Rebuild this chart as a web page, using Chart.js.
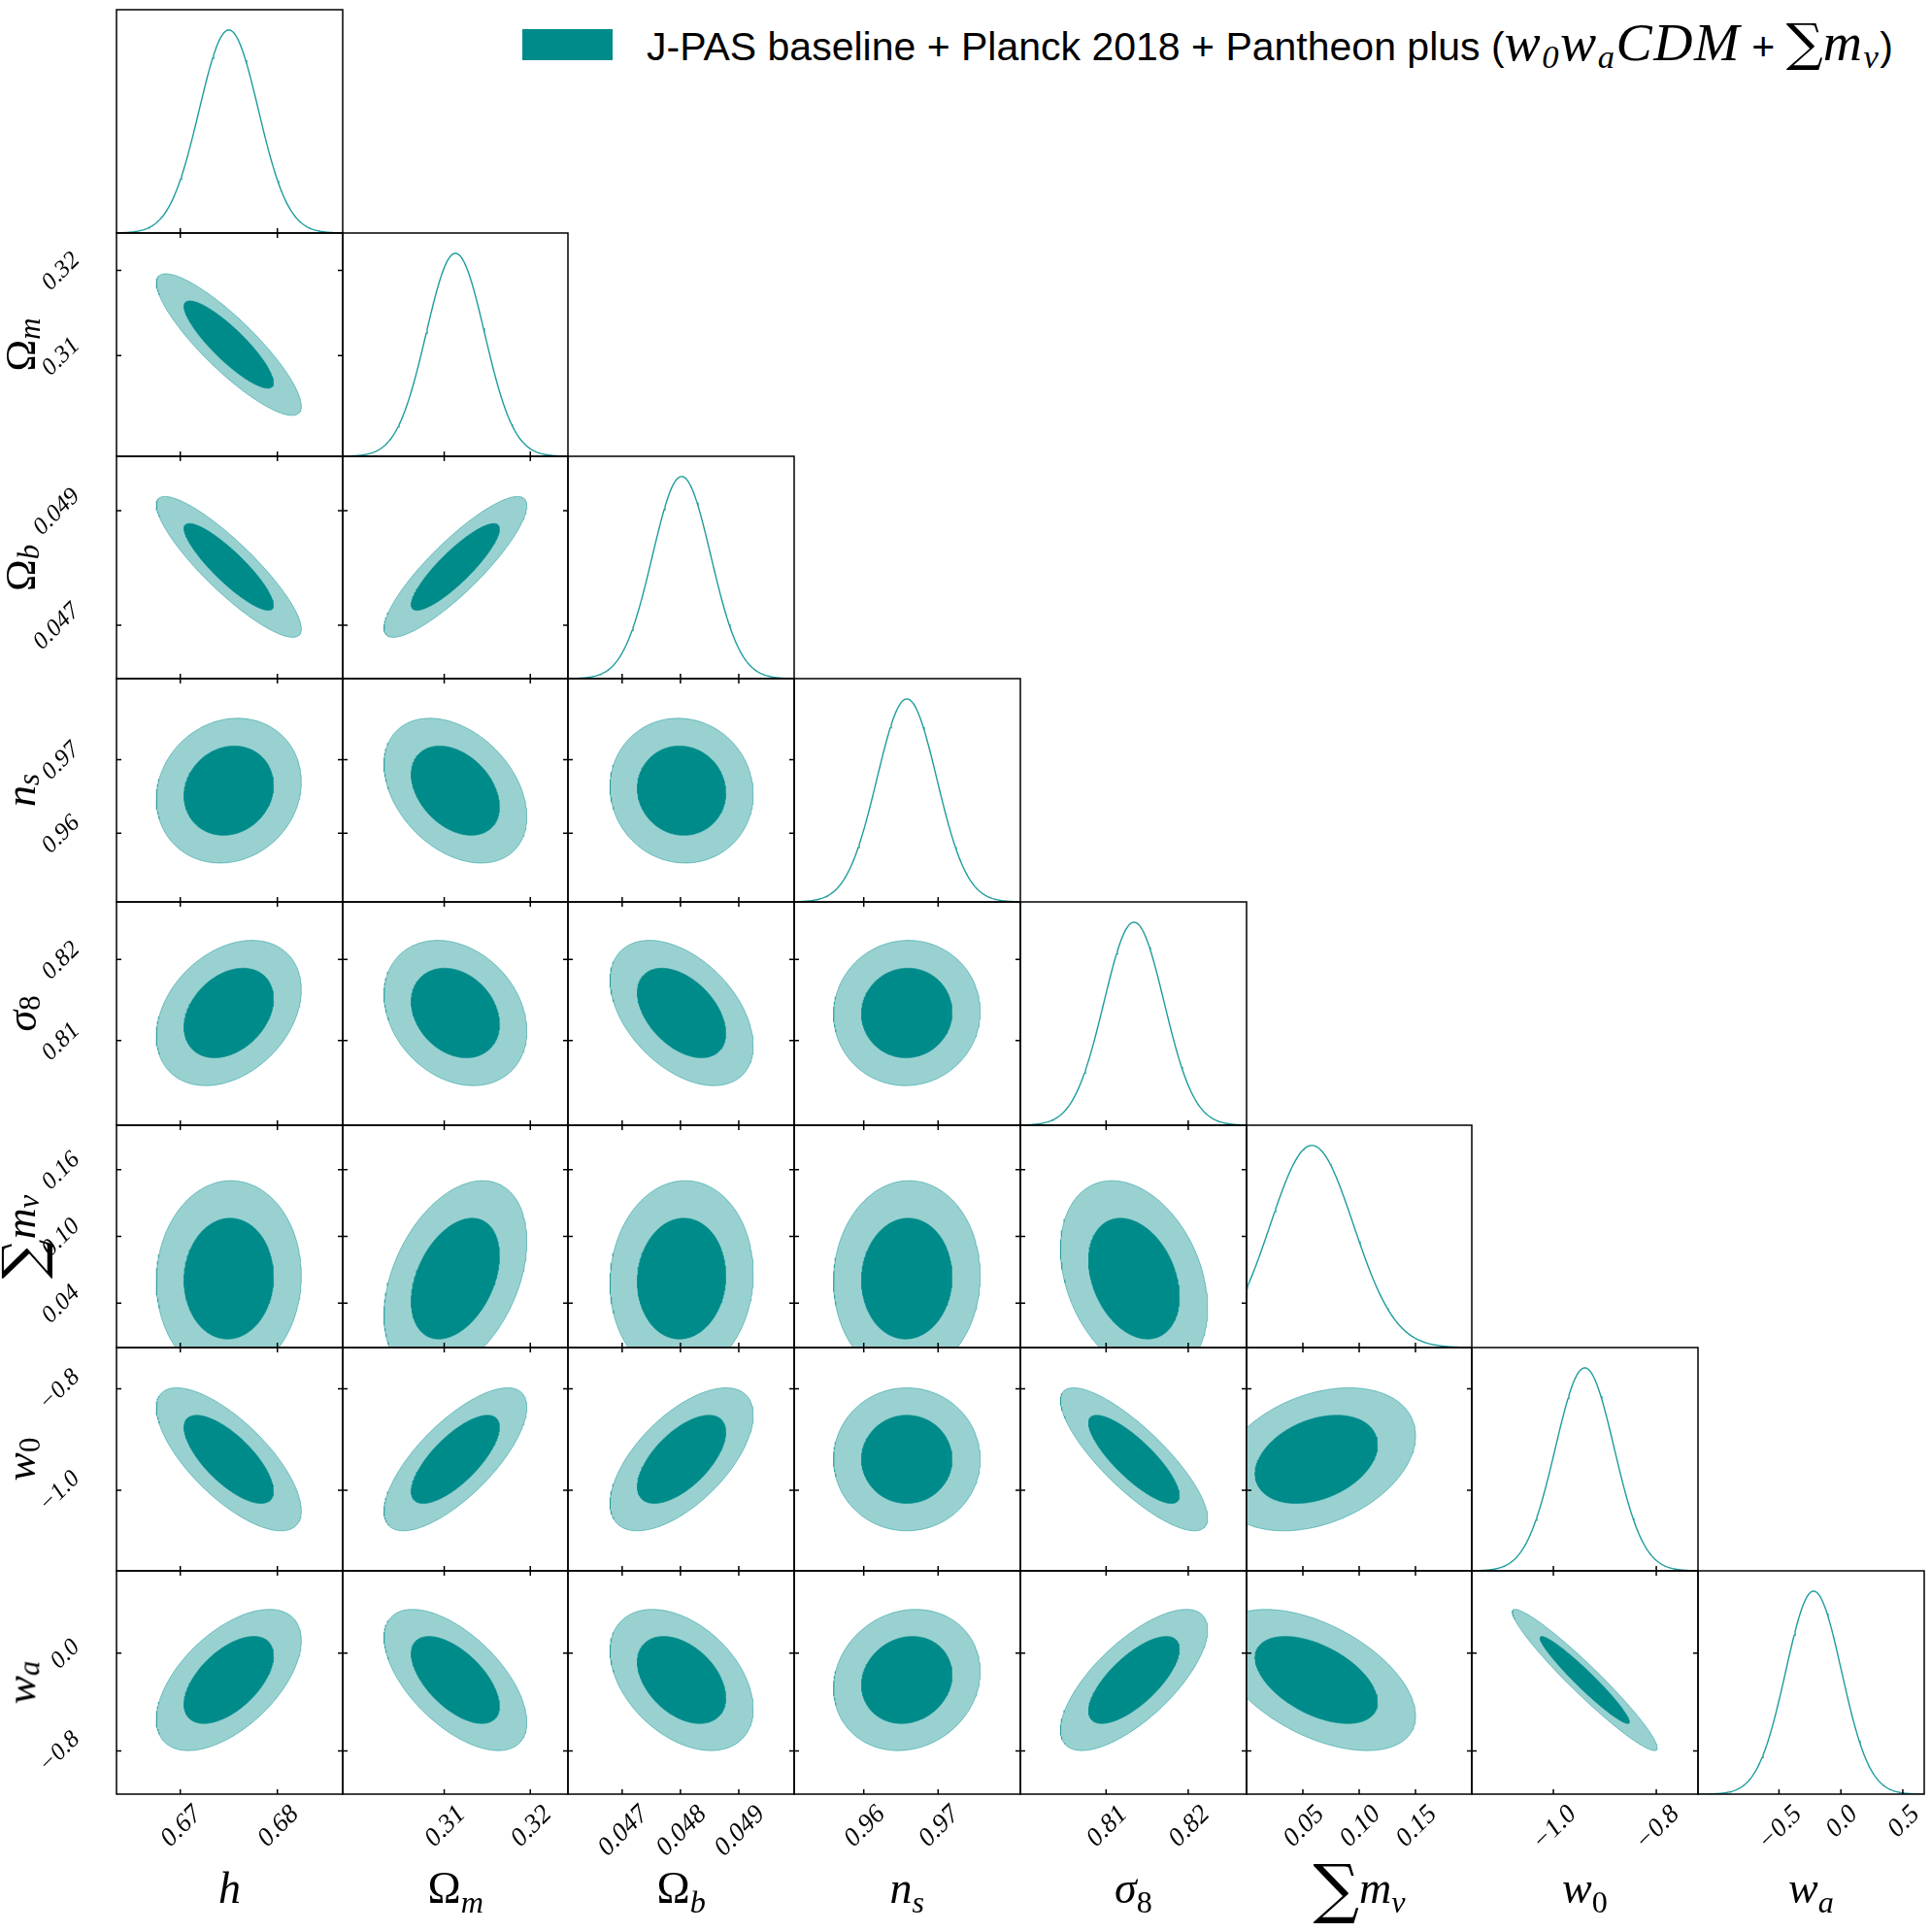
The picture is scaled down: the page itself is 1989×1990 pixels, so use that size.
<!DOCTYPE html>
<html>
<head>
<meta charset="utf-8">
<script src="https://cdn.jsdelivr.net/npm/chart.js@4.4.1/dist/chart.umd.min.js"></script>
<style>
  body { margin: 0; background: #fff; width: 1989px; height: 1990px; position: relative; overflow: hidden; }
  canvas { position: absolute; }
  .title { position: absolute; font-family: 'Liberation Serif', serif; font-size: 46px; line-height: 1; white-space: nowrap; color: #000; }
  .title i { font-style: italic; }
  .title sub { font-size: 0.7em; vertical-align: -0.3em; line-height: 0; }
  .title .sum { font-size: 1.45em; font-family: 'DejaVu Serif', serif; vertical-align: -0.12em; line-height: 0; }
  .title.ytitle { font-size: 44px; }
  .title.ytitle sub { vertical-align: -0.14em; }
  .title.ytitle .sum { font-size: 1.3em; }
  #swatch { position: absolute; left: 538px; top: 30px; width: 93px; height: 32px; background: #008b8b; }
  #legendText { position: absolute; left: 666px; top: 20px; font-family: 'Liberation Sans', sans-serif; font-size: 41px; line-height: 46px; white-space: nowrap; }
  #legendText i { font-family: 'Liberation Serif', serif; font-style: italic; font-size: 1.36em; letter-spacing: 1.5px; }
  #legendText sub { font-size: 0.62em; vertical-align: -0.3em; line-height: 0; }
  #legendText .sum { font-family: 'DejaVu Serif', serif; font-size: 1.3em; line-height: 0; }
</style>
</head>
<body>
<div id="swatch"></div>
<div id="legendText">J-PAS baseline + Planck 2018 + Pantheon plus (<i>w</i><sub><i>0</i></sub><i>w</i><sub><i>a</i></sub><i>CDM</i> + <span class="sum">∑</span><i>m</i><sub><i>ν</i></sub>)</div>
<script>
// parameters, in triangle order
const paramLabels = [
  '<i>h</i>',
  'Ω<sub><i>m</i></sub>',
  'Ω<sub><i>b</i></sub>',
  '<i>n</i><sub><i>s</i></sub>',
  '<i>σ</i><sub>8</sub>',
  '<span class="sum">∑</span><i>m</i><sub><i>ν</i></sub>',
  '<i>w</i><sub>0</sub>',
  '<i>w</i><sub><i>a</i></sub>'
];
const means  = [0.6750, 0.3113, 0.04802, 0.9658, 0.8134, 0.062, -0.939, -0.22];
const sigmas = [0.00305, 0.00339, 0.000502, 0.00403, 0.00366, 0.036, 0.0575, 0.236];
// 1D marginal peaks and widths (differ from the 2D ones only for the neutrino mass)
const marginalPeaks  = [0.6750, 0.3113, 0.04802, 0.9658, 0.8134, 0.058, -0.939, -0.22];
const marginalWidths = [0.00305, 0.00339, 0.000502, 0.00403, 0.00366, 0.037, 0.0570, 0.225];
const axisMin = [0.66343, 0.29821, 0.04607, 0.95064, 0.79956, 0.0, -1.1585, -1.154];
const axisMax = [0.68673, 0.32437, 0.04995, 0.98106, 0.8271, 0.2, -0.719, 0.673];
const xTicks = [[0.67, 0.68], [0.31, 0.32], [0.047, 0.048, 0.049], [0.96, 0.97], [0.81, 0.82], [0.05, 0.10, 0.15], [-1.0, -0.8], [-0.5, 0.0, 0.5]];
const yTicks = [[], [0.31, 0.32], [0.047, 0.049], [0.96, 0.97], [0.81, 0.82], [0.04, 0.10, 0.16], [-1.0, -0.8], [-0.8, 0.0]];
const tickDecimals = [2, 2, 3, 2, 2, 2, 1, 1];
// correlation of row parameter with each column parameter (lower triangle)
const correlations = [
  [],
  [-0.87],
  [-0.88, 0.87],
  [0.12, -0.36, -0.05],
  [0.32, -0.25, -0.45, 0.02],
  [0.03, 0.38, 0.05, 0.03, -0.30],
  [-0.72, 0.73, 0.62, 0.0, -0.82, 0.33],
  [0.56, -0.60, -0.41, 0.12, 0.71, -0.51, -0.96]
];
const contourLevels = [0.68, 0.95];

const N = paramLabels.length;
const colEdge = [], rowEdge = [];
for (let k = 0; k <= N; k++) {
  colEdge.push(Math.round(120 + k * 232.7));
  rowEdge.push(Math.round(10.3 + k * 229.7));
}
const M = 8, LP = 120, BP = 90;
const darkFill = '#008b8b', lightFill = '#99d1d1', lineColor = '#1f9c9c';

function fmt(v, d) {
  return v.toFixed(d).replace('-', '\u2212');
}

function drawRotLabel(ctx, text, ax, ay, mode) {
  const m = ctx.measureText(text);
  const asc = m.actualBoundingBoxAscent, desc = m.actualBoundingBoxDescent;
  const ext = (m.width + asc + desc) * Math.SQRT1_2;
  const cx = mode === 'x' ? ax : ax - ext / 2;
  const cy = mode === 'x' ? ay + ext / 2 : ay;
  ctx.save();
  ctx.translate(cx, cy);
  ctx.rotate(-Math.PI / 4);
  ctx.textAlign = 'center';
  ctx.textBaseline = 'alphabetic';
  ctx.fillText(text, 0, (asc - desc) / 2);
  ctx.restore();
}

// box, inward ticks and tick labels, placed by the chart's own scales
const framePlugin = {
  id: 'frame',
  afterDatasetsDraw(chart, args, opts) {
    const { ctx, chartArea: a } = chart;
    const x = chart.scales.x, y = chart.scales.y;
    const tl = 5;
    ctx.save();
    ctx.strokeStyle = '#000';
    ctx.lineWidth = 1.5;
    ctx.strokeRect(a.left, a.top, a.right - a.left, a.bottom - a.top);
    ctx.beginPath();
    opts.xTicks.forEach(v => {
      const px = x.getPixelForValue(v);
      ctx.moveTo(px, a.bottom); ctx.lineTo(px, a.bottom - tl);
      if (opts.box) { ctx.moveTo(px, a.top); ctx.lineTo(px, a.top + tl); }
    });
    if (opts.box) {
      opts.yTicks.forEach(v => {
        const py = y.getPixelForValue(v);
        ctx.moveTo(a.left, py); ctx.lineTo(a.left + tl, py);
        ctx.moveTo(a.right, py); ctx.lineTo(a.right - tl, py);
      });
    }
    ctx.stroke();
    ctx.fillStyle = '#000';
    if (opts.xLabels) {
      ctx.font = 'italic 27px "Liberation Serif"';
      opts.xTicks.forEach(v => drawRotLabel(ctx, fmt(v, opts.xDec), x.getPixelForValue(v), a.bottom + 9, 'x'));
    }
    if (opts.yLabels) {
      ctx.font = 'italic 25px "Liberation Serif"';
      opts.yTicks.forEach(v => drawRotLabel(ctx, fmt(v, opts.yDec), a.left - 37, y.getPixelForValue(v), 'y'));
    }
    ctx.restore();
  }
};

function ellipse(i, j, level) {
  const k = Math.sqrt(-2 * Math.log(1 - level));
  const r = correlations[i][j];
  const pts = [];
  for (let s = 0; s <= 180; s++) {
    const t = s / 180 * 2 * Math.PI;
    const u = Math.cos(t), v = Math.sin(t);
    pts.push({
      x: means[j] + k * sigmas[j] * u,
      y: means[i] + k * sigmas[i] * (r * u + Math.sqrt(1 - r * r) * v)
    });
  }
  return pts;
}

function marginal(j) {
  const pts = [];
  for (let s = 0; s <= 240; s++) {
    const xv = axisMin[j] + (axisMax[j] - axisMin[j]) * s / 240;
    const z = (xv - marginalPeaks[j]) / marginalWidths[j];
    pts.push({ x: xv, y: Math.exp(-0.5 * z * z) });
  }
  return pts;
}

function makeCanvas(left, top, w, h) {
  const c = document.createElement('canvas');
  c.width = w; c.height = h;
  c.style.left = left + 'px'; c.style.top = top + 'px';
  c.style.width = w + 'px'; c.style.height = h + 'px';
  document.body.appendChild(c);
  return c;
}

for (let i = 0; i < N; i++) {
  for (let j = 0; j <= i; j++) {
    const extraL = j === 0 ? LP : 0;
    const extraB = i === N - 1 ? BP : 0;
    const pw = colEdge[j + 1] - colEdge[j];
    const ph = rowEdge[i + 1] - rowEdge[i];
    const canvas = makeCanvas(colEdge[j] - M - extraL, rowEdge[i] - M, pw + 2 * M + extraL, ph + 2 * M + extraB);
    const diag = i === j;

    const datasets = diag ? [{
      data: marginal(j), showLine: true, fill: false, borderColor: lineColor,
      borderWidth: 1.4, pointRadius: 0, tension: 0
    }] : [{
      data: ellipse(i, j, contourLevels[0]), showLine: true, fill: 'shape',
      backgroundColor: darkFill, borderColor: darkFill, borderWidth: 0.6, pointRadius: 0, order: 0
    }, {
      data: ellipse(i, j, contourLevels[1]), showLine: true, fill: 'shape',
      backgroundColor: lightFill, borderColor: 'rgba(0,139,139,0.45)', borderWidth: 1, pointRadius: 0, order: 1
    }];

    new Chart(canvas, {
      type: 'scatter',
      data: { datasets },
      options: {
        responsive: false,
        animation: false,
        devicePixelRatio: 1,
        events: [],
        layout: { padding: { left: M + extraL, right: M, top: M, bottom: M + extraB } },
        scales: {
          x: { type: 'linear', min: axisMin[j], max: axisMax[j], display: false },
          y: diag ? { type: 'linear', min: 0, max: 1.1, display: false }
                  : { type: 'linear', min: axisMin[i], max: axisMax[i], display: false }
        },
        plugins: {
          legend: { display: false },
          tooltip: { enabled: false },
          frame: {
            box: !diag,
            xTicks: xTicks[j],
            yTicks: diag ? [] : yTicks[i],
            xLabels: i === N - 1,
            yLabels: j === 0 && !diag,
            xDec: tickDecimals[j],
            yDec: tickDecimals[i]
          }
        }
      },
      plugins: [framePlugin]
    });
  }
}

// axis titles
for (let k = 0; k < N; k++) {
  const xt = document.createElement('div');
  xt.className = 'title';
  xt.innerHTML = paramLabels[k];
  document.body.appendChild(xt);
  const cx = (colEdge[k] + colEdge[k + 1]) / 2;
  xt.style.left = (cx - xt.offsetWidth / 2) + 'px';
  xt.style.top = '1922px';
  if (k > 0) {
    const yt = document.createElement('div');
    yt.className = 'title ytitle';
    yt.innerHTML = paramLabels[k];
    document.body.appendChild(yt);
    const cy = (rowEdge[k] + rowEdge[k + 1]) / 2;
    yt.style.left = (22 - yt.offsetWidth / 2) + 'px';
    yt.style.top = (cy - yt.offsetHeight / 2) + 'px';
    yt.style.transform = 'rotate(-90deg)';
  }
}
</script>
</body>
</html>
